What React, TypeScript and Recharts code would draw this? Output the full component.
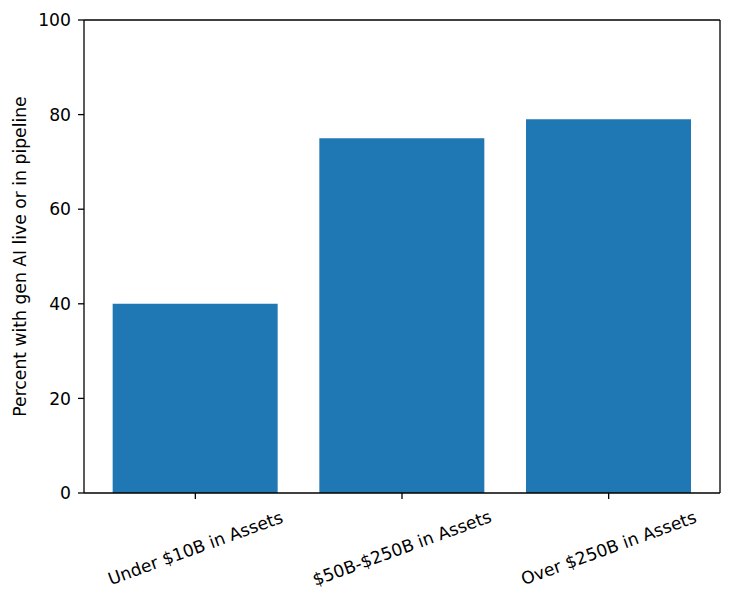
import React from "react";
import { BarChart, Bar, XAxis, YAxis } from "recharts";

const categories = ["Under $10B in Assets", "$50B-$250B in Assets", "Over $250B in Assets"];
const percents = [40, 75, 79];
const yTicks = [0, 20, 40, 60, 80, 100];
const yLabel = "Percent with gen AI live or in pipeline";

const data = categories.map((c, i) => ({ name: c, value: percents[i] }));

const FONT = "'DejaVu Sans', sans-serif";
const FS = 17.2;

const XTick = (props: any) => {
  const { x, y, payload } = props;
  const cy = y + 47;
  return (
    <text
      x={x}
      y={cy}
      textAnchor="middle"
      dominantBaseline="central"
      transform={`rotate(-20, ${x}, ${cy})`}
      fontFamily={FONT}
      fontSize={FS}
      fill="#000"
    >
      {payload.value}
    </text>
  );
};

const YLabel = (props: any) => {
  const { viewBox } = props;
  const cy = viewBox.y + viewBox.height / 2;
  const cx = 20;
  return (
    <text
      x={cx}
      y={cy}
      textAnchor="middle"
      dominantBaseline="central"
      transform={`rotate(-90, ${cx}, ${cy})`}
      fontFamily={FONT}
      fontSize={FS}
      fill="#000"
    >
      {yLabel}
    </text>
  );
};

export default function App() {
  return (
    <div style={{ position: "absolute", left: 0, top: 0, width: 732, height: 600, background: "#fff" }}>
      <BarChart
        width={732}
        height={600}
        data={data}
        margin={{ top: 19, right: 11, left: 0, bottom: 0 }}
        barCategoryGap="10%"
      >
        <XAxis
          xAxisId="top"
          orientation="top"
          dataKey="name"
          tick={false}
          tickLine={false}
          height={1}
          padding={{ left: 8, right: 8 }}
          axisLine={{ stroke: "#000", strokeWidth: 1.3 }}
        />
        <YAxis
          yAxisId="right"
          orientation="right"
          tick={false}
          tickLine={false}
          width={1}
          domain={[0, 100]}
          axisLine={{ stroke: "#000", strokeWidth: 1.3 }}
        />
        <XAxis
          xAxisId="main"
          dataKey="name"
          height={107}
          padding={{ left: 8, right: 8 }}
          tickSize={6}
          tick={<XTick />}
          interval={0}
          axisLine={{ stroke: "#000", strokeWidth: 1.3 }}
          tickLine={{ stroke: "#000", strokeWidth: 1.3 }}
        />
        <YAxis
          yAxisId="main"
          width={84}
          domain={[0, 100]}
          ticks={yTicks}
          tickSize={6}
          tickMargin={7}
          axisLine={{ stroke: "#000", strokeWidth: 1.3 }}
          tickLine={{ stroke: "#000", strokeWidth: 1.3 }}
          tick={{ fontFamily: FONT, fontSize: FS, fill: "#000" }}
          label={<YLabel />}
        />
        <Bar
          xAxisId="main"
          yAxisId="main"
          dataKey="value"
          fill="#1f77b4"
          isAnimationActive={false}
        />
      </BarChart>
    </div>
  );
}
